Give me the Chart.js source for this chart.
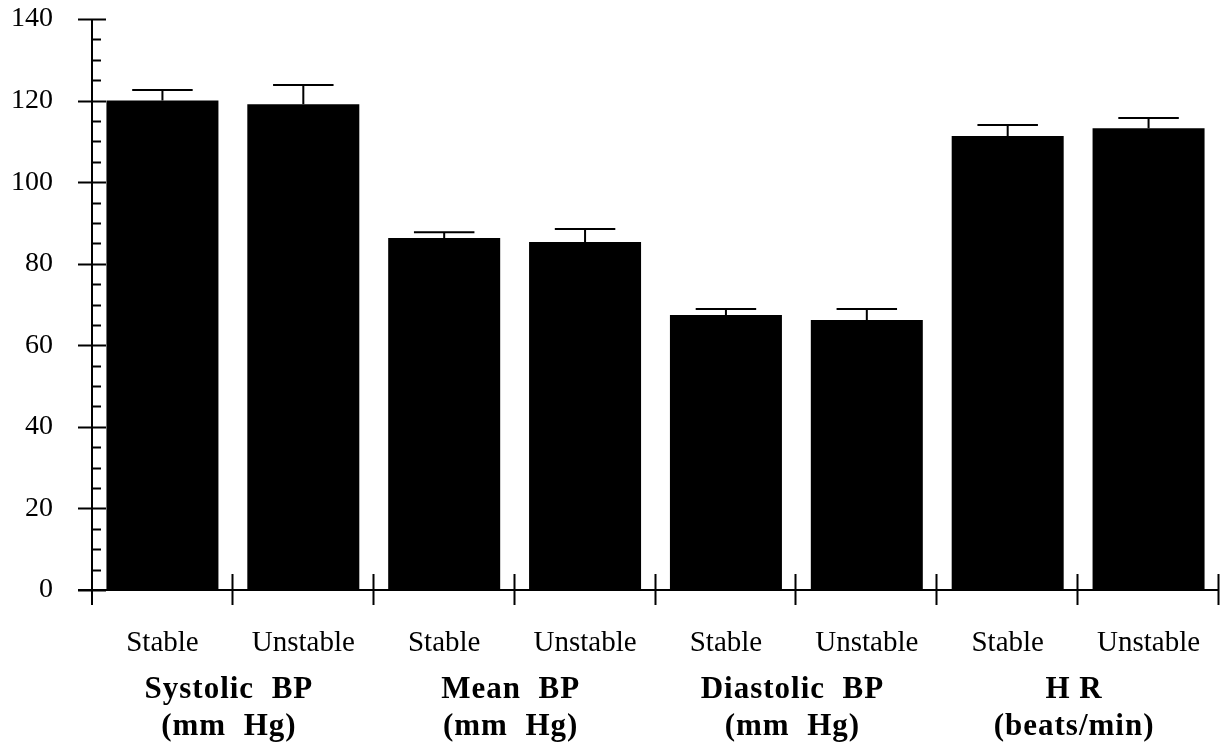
<!DOCTYPE html>
<html>
<head>
<meta charset="utf-8">
<script src="https://cdn.jsdelivr.net/npm/chart.js@4/dist/chart.umd.min.js"></script>
<style>
  html, body { margin: 0; padding: 0; background: #fff; }
  #wrap { width: 1220px; height: 743px; }
</style>
</head>
<body>
<div id="wrap"><canvas id="bpChart" width="1220" height="743"></canvas></div>
<script>
// values
const categories = ['Stable', 'Unstable', 'Stable', 'Unstable', 'Stable', 'Unstable', 'Stable', 'Unstable'];
const means = [120, 119.1, 86.3, 85.3, 67.4, 66.2, 111.3, 113.2];
const sem = [2.6, 4.7, 1.4, 3.2, 1.5, 2.7, 2.7, 2.5];
const groupLabels = [
  ['Systolic  BP', '(mm  Hg)'],
  ['Mean  BP', '(mm  Hg)'],
  ['Diastolic  BP', '(mm  Hg)'],
  ['H R', '(beats/min)']
];
const yMax = 140;

// axes, tick marks, error bars and group captions
const extras = {
  id: 'extras',
  afterDatasetsDraw(chart) {
    const ctx = chart.ctx;
    const x = chart.scales.x, y = chart.scales.y;
    const area = chart.chartArea;
    const bottom = y.getPixelForValue(0);
    const axisX = area.left;

    ctx.save();
    ctx.strokeStyle = '#000';
    ctx.fillStyle = '#000';
    ctx.lineWidth = 2;

    // error bars
    const meta = chart.getDatasetMeta(0);
    meta.data.forEach((bar, i) => {
      const top = y.getPixelForValue(means[i] + sem[i]);
      const cap = bar.width * 0.27;
      ctx.beginPath();
      ctx.moveTo(bar.x, bar.y);
      ctx.lineTo(bar.x, top);
      ctx.moveTo(bar.x - cap, top);
      ctx.lineTo(bar.x + cap, top);
      ctx.stroke();
    });

    // y axis line and ticks
    ctx.beginPath();
    ctx.moveTo(axisX, y.getPixelForValue(yMax));
    ctx.lineTo(axisX, bottom + 15);
    for (let v = 0; v <= yMax; v += 5) {
      const py = Math.round(y.getPixelForValue(v)) + 0.5;
      if (v % 20 === 0) {
        ctx.moveTo(axisX - 14, py);
        ctx.lineTo(axisX + 14, py);
      } else {
        ctx.moveTo(axisX, py);
        ctx.lineTo(axisX + 9, py);
      }
    }
    ctx.stroke();

    // x axis line and boundary ticks
    const half = (x.getPixelForValue(1) - x.getPixelForValue(0)) / 2;
    ctx.beginPath();
    ctx.moveTo(axisX - 14, bottom);
    ctx.lineTo(area.right, bottom);
    for (let i = 0; i < categories.length; i++) {
      const bx = Math.round(x.getPixelForValue(i) + half) - 0.5;
      ctx.moveTo(bx, bottom - 16);
      ctx.lineTo(bx, bottom + 15);
    }
    ctx.stroke();

    // group captions
    ctx.font = 'bold 31px "Liberation Serif", "Times New Roman", serif';
    ctx.letterSpacing = '1px';
    ctx.textAlign = 'center';
    ctx.textBaseline = 'alphabetic';
    groupLabels.forEach((lines, g) => {
      const cx = (x.getPixelForValue(g * 2) + x.getPixelForValue(g * 2 + 1)) / 2;
      ctx.fillText(lines[0], cx - 4, bottom + 108);
      ctx.fillText(lines[1], cx - 4, bottom + 145);
    });
    ctx.restore();
  }
};

// drop the label overhang padding so the plot fills the frame
function noPad(scale) {
  scale.paddingTop = 0;
  scale.paddingBottom = 0;
  scale.paddingLeft = 0;
  scale.paddingRight = 0;
}

const canvas = document.getElementById('bpChart').getContext('2d');
new Chart(canvas, {
  type: 'bar',
  data: {
    labels: categories,
    datasets: [{
      data: means,
      backgroundColor: '#000',
      borderWidth: 0,
      barPercentage: 0.795,
      categoryPercentage: 1
    }]
  },
  options: {
    responsive: false,
    animation: false,
    layout: { padding: { top: 19, right: 1, left: 0, bottom: 0 } },
    plugins: { legend: { display: false }, tooltip: { enabled: false } },
    scales: {
      x: {
        grid: { display: false, drawTicks: false },
        border: { display: false },
        ticks: {
          color: '#000',
          padding: 36,
          maxRotation: 0,
          font: { family: '"Liberation Serif", "Times New Roman", serif', size: 29 }
        },
        afterFit(scale) { scale.height = 153; noPad(scale); }
      },
      y: {
        min: 0,
        max: yMax,
        grid: { display: false, drawTicks: false },
        border: { display: false },
        ticks: {
          stepSize: 20,
          color: '#000',
          padding: 39,
          font: { family: '"Liberation Serif", "Times New Roman", serif', size: 28 }
        },
        afterFit(scale) { scale.width = 92; noPad(scale); }
      }
    }
  },
  plugins: [extras]
});
</script>
</body>
</html>
